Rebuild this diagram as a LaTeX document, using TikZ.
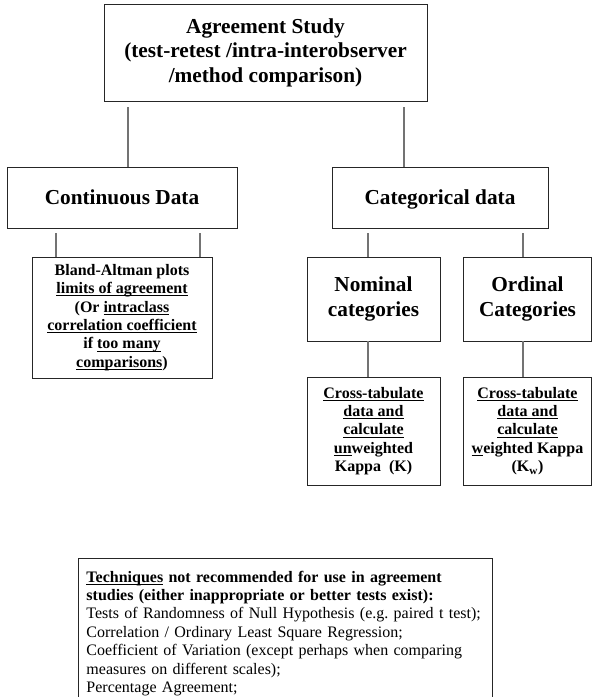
\documentclass[tikz,border=0pt]{standalone}
\usepackage{fontspec}
\setmainfont{Liberation Serif}
\newlength{\undlwd}
\newcommand{\undl}[1]{\settowidth{\undlwd}{#1}\rlap{\rule[-2.6pt]{\undlwd}{0.9pt}}#1}
\newcommand{\bigtext}{\fontsize{21.3}{24.5}\selectfont\bfseries}
\newcommand{\smalltext}{\fontsize{16}{18.4}\selectfont}
\frenchspacing

\begin{document}
\begin{tikzpicture}[x=1pt,y=-1pt,
	box/.style={draw=black!85, line width=0.9pt, align=center, inner sep=0pt},
	link/.style={draw=black!55, line width=1.3pt}]
	\useasboundingbox (0,0) rectangle (592,697);
	\clip (0,0) rectangle (592,697);

	% Top box
	\node[box, minimum width=323pt, minimum height=97pt, font=\bigtext] (study) at (265.5,52.5)
		{Agreement Study\\(test-retest /intra-interobserver\\/method comparison)};

	% Kinds of data
	\node[box, minimum width=230pt, minimum height=61pt, text depth=0pt, font=\bigtext] (cont) at (122,197.5) {Continuous Data};
	\node[box, minimum width=216pt, minimum height=61pt, text depth=0pt, font=\bigtext] (cat) at (440,197.5) {Categorical data};

	% Continuous branch
	\node[box, minimum width=180pt, minimum height=121pt, font=\smalltext\bfseries] (bland) at (122,317.5)
		{Bland-Altman plots\\\undl{limits of agreement}\\(Or \undl{intraclass}\\\undl{correlation coefficient}\\if \undl{too many}\\\undl{comparisons})};

	% Categorical branch
	\node[box, minimum width=133pt, minimum height=84pt, font=\bigtext] (nom) at (373.5,299) {Nominal\\categories};
	\node[box, minimum width=128pt, minimum height=84pt, font=\bigtext] (ord) at (527.5,299) {Ordinal\\Categories};
	\node[box, minimum width=133pt, minimum height=108pt, font=\smalltext\bfseries] (kappa) at (373.5,431)
		{\undl{Cross-tabulate}\\\undl{data and}\\\undl{calculate}\\\undl{un}weighted\\Kappa~ (K)};
	\node[box, minimum width=128pt, minimum height=108pt, font=\smalltext\bfseries] (wkappa) at (527.5,431)
		{\undl{Cross-tabulate}\\\undl{data and}\\\undl{calculate}\\\undl{w}eighted Kappa\\(K\textsubscript{w})};

	% Links
	\draw[link] ([xshift=6pt]cont.north) -- ++(0,-60);
	\draw[link] ([xshift=-36pt]cat.north) -- ++(0,-60);
	\draw[link] ([xshift=-66pt]bland.north) -- ++(0,-24);
	\draw[link] ([xshift=78pt]bland.north) -- ++(0,-24);
	\draw[link] ([xshift=-5.5pt]nom.north) -- ++(0,-24);
	\draw[link] ([xshift=-4.5pt]ord.north) -- ++(0,-24);
	\draw[link] ([xshift=-5.5pt]nom.south) -- ([xshift=-5.5pt]kappa.north);
	\draw[link] ([xshift=-4.5pt]ord.south) -- ([xshift=-4.5pt]wkappa.north);

	% Techniques to avoid
	\node[box, anchor=north west, align=left, text width=398pt, inner xsep=8pt, inner ysep=5pt,
		minimum height=150pt, font=\smalltext] (avoid) at (78,558)
		{\textbf{\undl{Techniques} not recommended for use in agreement}\\
		\textbf{studies (either inappropriate or better tests exist):}\\
		Tests of Randomness of Null Hypothesis (e.g. paired t test);\\
		Correlation / Ordinary Least Square Regression;\\
		Coefficient of Variation (except perhaps when comparing\\
		measures on different scales);\\
		Percentage Agreement;\\[14pt]};
\end{tikzpicture}
\end{document}
